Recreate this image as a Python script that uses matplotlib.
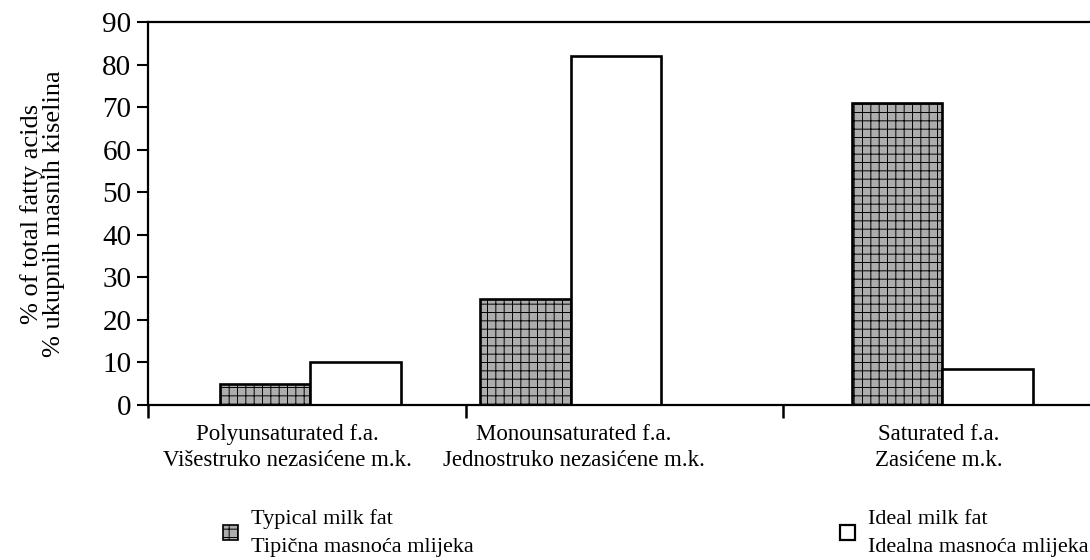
import numpy as np
import matplotlib
matplotlib.use("Agg")
import matplotlib.pyplot as plt
from matplotlib.patches import Patch

plt.rcParams['font.family'] = ['Liberation Serif', 'DejaVu Serif']
plt.rcParams['hatch.color'] = '#767676'
plt.rcParams['hatch.linewidth'] = 0.7

categories = ['Polyunsaturated f.a.\nVišestruko nezasićene m.k.',
              'Monounsaturated f.a.\nJednostruko nezasićene m.k.',
              'Saturated f.a.\nZasićene m.k.']
typical = [5, 25, 71]
ideal = [10, 82, 8.5]
series_labels = ['Typical milk fat\nTipična masnoća mlijeka',
                 'Ideal milk fat\nIdealna masnoća mlijeka']

# group centres (in category units, boundaries at 0, 1, 2)
centres = np.array([0.51, 1.33, 2.5])
w = 0.285

fig = plt.figure(figsize=(10.9, 5.6), dpi=100)
ax = fig.add_axes([0.1358, 0.2768, 0.8700, 0.6839])

ax.bar(centres - w / 2, typical, w, facecolor='#adadad', edgecolor='black',
       linewidth=1.9, hatch='++')
ax.bar(centres + w / 2, ideal, w, facecolor='white', edgecolor='black',
       linewidth=1.9)

ax.set_ylim(0, 90)
ax.set_xlim(0, 2.985)
ax.set_yticks(np.arange(0, 91, 10))
ax.tick_params(axis='y', labelsize=21, length=8, width=1.5, direction='out', pad=4)

ax.set_xticks([0, 1, 2], minor=True)
ax.tick_params(axis='x', which='minor', length=9, width=1.8, direction='out')
ax.set_xticks([0.44, 1.34, 2.49])
ax.set_xticklabels(categories, fontsize=16.5, linespacing=1.3)
ax.tick_params(axis='x', which='major', length=0, pad=14)

for s in ['left', 'bottom', 'top']:
    ax.spines[s].set_linewidth(1.6)
ax.spines['right'].set_visible(False)

ax.set_ylabel('% of total fatty acids\n% ukupnih masnih kiselina', fontsize=19,
              linespacing=1.0, labelpad=27)

handles = [Patch(facecolor='#adadad', edgecolor='black', hatch='++', linewidth=1.2),
           Patch(facecolor='white', edgecolor='black', linewidth=1.6)]
for h, lab, x0 in zip(handles, series_labels, [0.186, 0.752]):
    leg = fig.legend([h], [lab], loc='lower left', bbox_to_anchor=(x0, -0.03),
                     frameon=False, fontsize=16, handlelength=0.67, handleheight=0.67,
                     handletextpad=0.6)
    for t in leg.get_texts():
        t.set_linespacing(1.6)

fig.savefig('out.png', dpi=100)
